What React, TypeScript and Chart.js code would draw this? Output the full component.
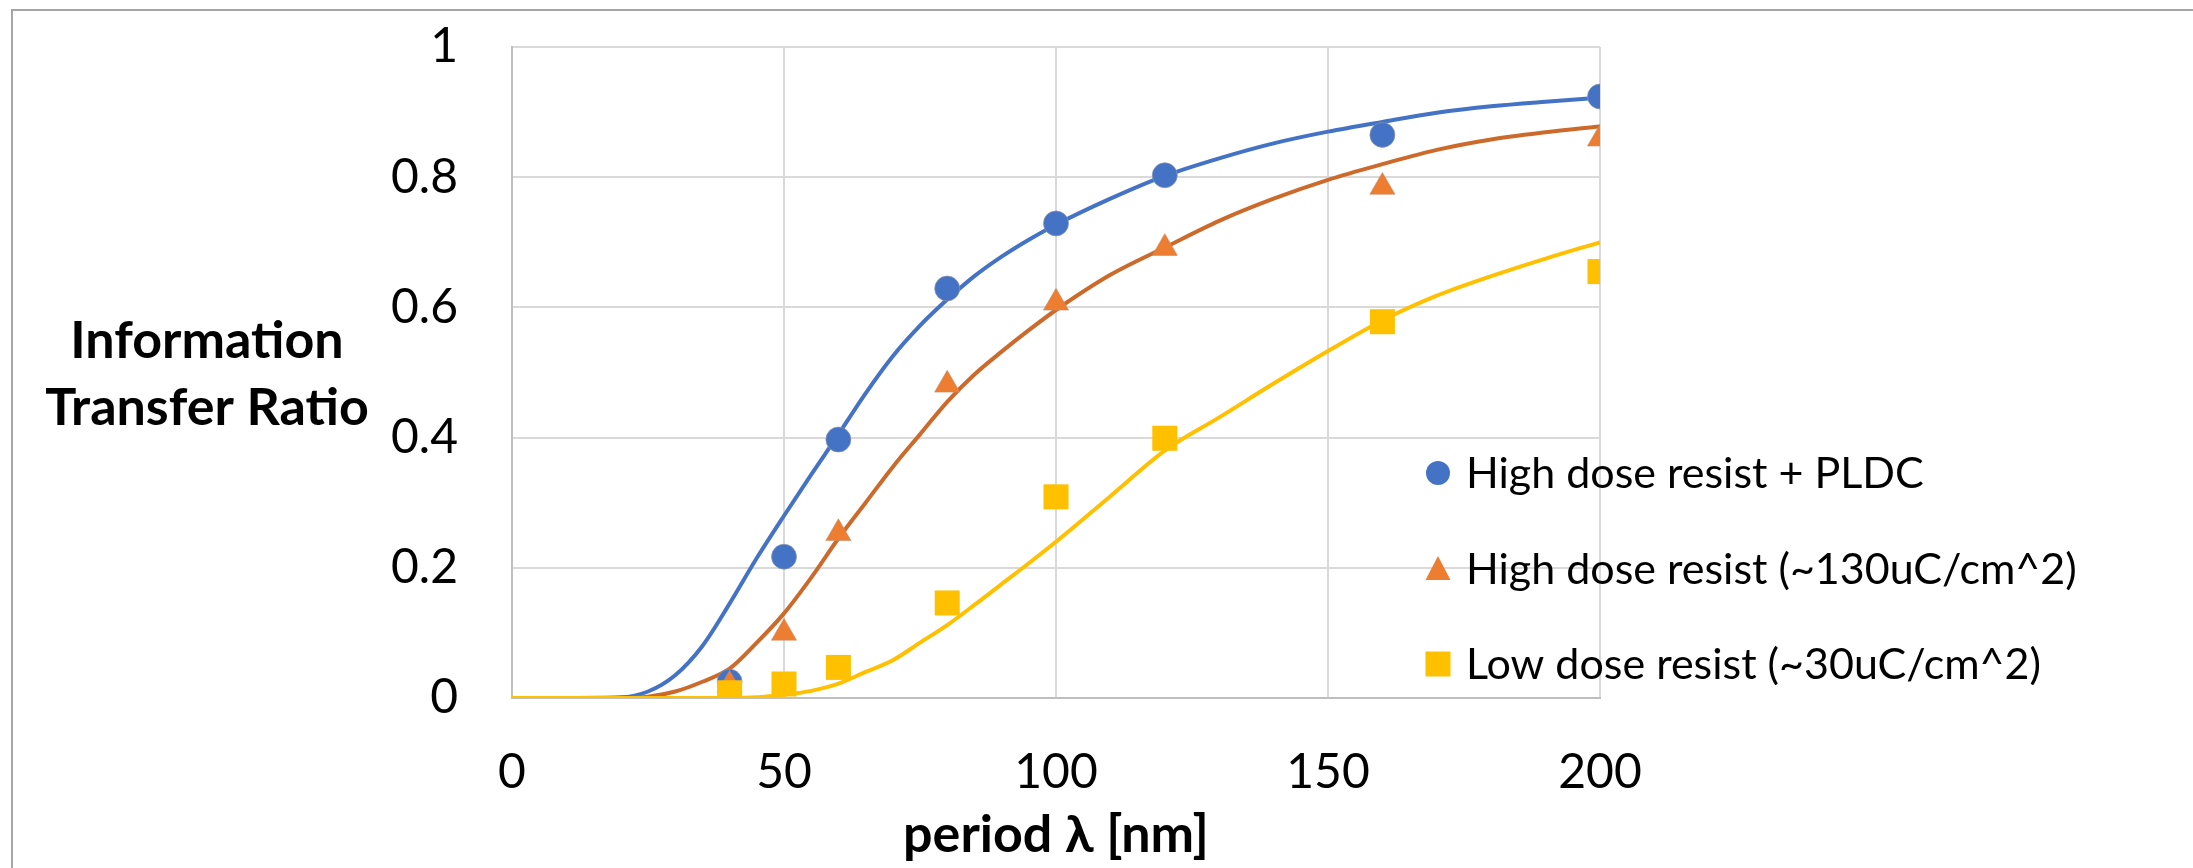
import React, { useEffect, useRef } from 'react';
import { Chart, registerables } from 'chart.js';

Chart.register(...registerables);

// Measured points
const periods = [40, 50, 60, 80, 100, 120, 160, 200];
const pldcMeasured = [0.025, 0.217, 0.397, 0.629, 0.729, 0.803, 0.865, 0.924];
const highDoseMeasured = [0.02, 0.1, 0.253, 0.481, 0.607, 0.691, 0.785, 0.859];
const lowDoseMeasured = [0.008, 0.0215, 0.047, 0.146, 0.309, 0.399, 0.578, 0.655];

// Fitted curves
const fitX = [0, 10, 20, 25, 30, 35, 40, 45, 50, 55, 60, 65, 70, 75, 80, 85, 90, 95, 100, 110, 120, 130, 140, 150, 160, 170, 180, 190, 200];
const pldcFit = [0, 0, 0.001, 0.01, 0.035, 0.08, 0.145, 0.215, 0.28, 0.343, 0.405, 0.468, 0.525, 0.572, 0.612, 0.648, 0.678, 0.704, 0.727, 0.767, 0.802, 0.829, 0.852, 0.87, 0.885, 0.899, 0.909, 0.916, 0.922];
const highDoseFit = [0, 0, 0, 0.002, 0.01, 0.025, 0.045, 0.085, 0.13, 0.185, 0.245, 0.3, 0.355, 0.405, 0.455, 0.497, 0.532, 0.565, 0.596, 0.65, 0.692, 0.733, 0.767, 0.796, 0.82, 0.842, 0.858, 0.869, 0.878];
const lowDoseFit = [0, 0, 0, 0, 0, 0, 0, 0.001, 0.005, 0.011, 0.022, 0.04, 0.058, 0.085, 0.112, 0.143, 0.175, 0.207, 0.24, 0.31, 0.38, 0.431, 0.483, 0.533, 0.58, 0.618, 0.648, 0.675, 0.7];

const xTicks = [0, 50, 100, 150, 200];
const yTicks = [0, 0.2, 0.4, 0.6, 0.8, 1];

const seriesNames = [
  'High dose resist + PLDC',
  'High dose resist (~130uC/cm^2)',
  'Low dose resist (~30uC/cm^2)',
];
const yTitleLines = ['Information', 'Transfer Ratio'];
const xTitle = 'period \u03BB [nm]';

const BLUE = '#4472C4';
const ORANGE = '#ED7D31';
const ORANGE_LINE = '#CC6A2C';
const YELLOW = '#FFC000';
const FONT = "Lato, 'DejaVu Sans', sans-serif";

const pts = (xs: number[], ys: number[]) => xs.map((x, i) => ({ x, y: ys[i] }));

function drawMarker(ctx: CanvasRenderingContext2D, kind: string, x: number, y: number, color: string) {
  ctx.save();
  ctx.fillStyle = color;
  ctx.beginPath();
  if (kind === 'circle') {
    ctx.arc(x, y, 12, 0, Math.PI * 2);
  } else if (kind === 'triangle') {
    ctx.moveTo(x, y - 13);
    ctx.lineTo(x + 12.5, y + 11);
    ctx.lineTo(x - 12.5, y + 11);
    ctx.closePath();
  } else {
    ctx.rect(x - 12.5, y - 12.5, 25, 25);
  }
  ctx.fill();
  ctx.restore();
}

const overlayPlugin = {
  id: 'overlay',
  beforeDraw(chart: any) {
    const ctx = chart.ctx as CanvasRenderingContext2D;
    ctx.save();
    ctx.strokeStyle = '#A6A6A6';
    ctx.lineWidth = 2;
    ctx.beginPath();
    ctx.moveTo(12, chart.height);
    ctx.lineTo(12, 10);
    ctx.lineTo(chart.width, 10);
    ctx.stroke();
    ctx.restore();
  },
  afterDraw(chart: any) {
    const ctx = chart.ctx as CanvasRenderingContext2D;
    const area = chart.chartArea;
    ctx.save();
    ctx.fillStyle = '#000';
    ctx.textAlign = 'center';
    ctx.textBaseline = 'alphabetic';
    ctx.font = `bold 52px ${FONT}`;
    ctx.fillText(xTitle, (area.left + area.right) / 2, 852);
    ctx.fillText(yTitleLines[0], 207, 358);
    ctx.fillText(yTitleLines[1], 207, 425);

    // legend
    const kinds = ['circle', 'triangle', 'rect'];
    const colors = [BLUE, ORANGE, YELLOW];
    const rowY = [488, 584, 679];
    ctx.textAlign = 'left';
    ctx.font = `43px ${FONT}`;
    for (let i = 0; i < 3; i++) {
      drawMarker(ctx, kinds[i], 1438, rowY[i] - 15, colors[i]);
      ctx.fillStyle = '#000';
      ctx.fillText(seriesNames[i], 1466, rowY[i]);
    }
    ctx.restore();
  },
};

export default function App() {
  const ref = useRef<HTMLCanvasElement | null>(null);

  useEffect(() => {
    if (!ref.current) return;
    Chart.defaults.font.family = FONT;
    const chart = new Chart(ref.current, {
      type: 'scatter',
      data: {
        datasets: [
          {
            label: seriesNames[0],
            data: pts(periods, pldcMeasured),
            showLine: false,
            pointStyle: 'circle',
            pointRadius: 12.5,
            backgroundColor: BLUE,
            borderColor: 'rgba(140,150,170,0.7)',
            pointBorderWidth: 1,
            order: 3,
          },
          {
            label: seriesNames[1],
            data: pts(periods, highDoseMeasured),
            showLine: false,
            pointStyle: 'triangle',
            pointRadius: 14.5,
            backgroundColor: ORANGE,
            borderColor: 'rgba(200,140,100,0.6)',
            pointBorderWidth: 1,
            order: 2,
          },
          {
            label: seriesNames[2],
            data: pts(periods, lowDoseMeasured),
            showLine: false,
            pointStyle: 'rect',
            pointRadius: 17.7,
            backgroundColor: YELLOW,
            borderColor: YELLOW,
            pointBorderWidth: 0,
            order: 1,
          },
          {
            label: 'fit1',
            data: pts(fitX, pldcFit),
            showLine: true,
            pointRadius: 0,
            borderColor: BLUE,
            borderWidth: 4,
            cubicInterpolationMode: 'monotone',
            order: 12,
          },
          {
            label: 'fit2',
            data: pts(fitX, highDoseFit),
            showLine: true,
            pointRadius: 0,
            borderColor: ORANGE_LINE,
            borderWidth: 4,
            cubicInterpolationMode: 'monotone',
            order: 11,
          },
          {
            label: 'fit3',
            data: pts(fitX, lowDoseFit),
            showLine: true,
            pointRadius: 0,
            borderColor: YELLOW,
            borderWidth: 4,
            cubicInterpolationMode: 'monotone',
            order: 10,
          },
        ] as any,
      },
      options: {
        animation: false,
        responsive: false,
        devicePixelRatio: 1,
        layout: { padding: { left: 0, right: 593, top: 47, bottom: 0 } },
        plugins: {
          legend: { display: false },
          tooltip: { enabled: false },
        },
        scales: {
          x: {
            type: 'linear',
            min: 0,
            max: 200,
            afterBuildTicks: (s: any) => { s.ticks = xTicks.map((v) => ({ value: v })); },
            ticks: { padding: 46, color: '#000', font: { size: 48, family: FONT }, callback: (v: any) => String(v) },
            grid: { color: '#D9D9D9', lineWidth: 2, drawTicks: false },
            border: { color: '#BFBFBF', width: 2 },
            afterFit: (s: any) => { s.height = 170; s.paddingLeft = 0; s.paddingRight = 0; },
          },
          y: {
            type: 'linear',
            min: 0,
            max: 1,
            afterBuildTicks: (s: any) => { s.ticks = yTicks.map((v) => ({ value: v })); },
            ticks: { padding: 54, color: '#000', font: { size: 48, family: FONT }, callback: (v: any) => String(Math.round(v * 10) / 10) },
            grid: { color: '#D9D9D9', lineWidth: 2, drawTicks: false },
            border: { color: '#BFBFBF', width: 2 },
            afterFit: (s: any) => { s.width = 512; s.paddingTop = 0; s.paddingBottom = 0; },
          },
        },
      } as any,
      plugins: [overlayPlugin],
    });
    return () => chart.destroy();
  }, []);

  return (
    <div style={{ position: 'fixed', left: 0, top: 0, width: 2193, height: 868, background: '#fff' }}>
      <canvas ref={ref} width={2193} height={868} style={{ width: 2193, height: 868, display: 'block' }} />
    </div>
  );
}
